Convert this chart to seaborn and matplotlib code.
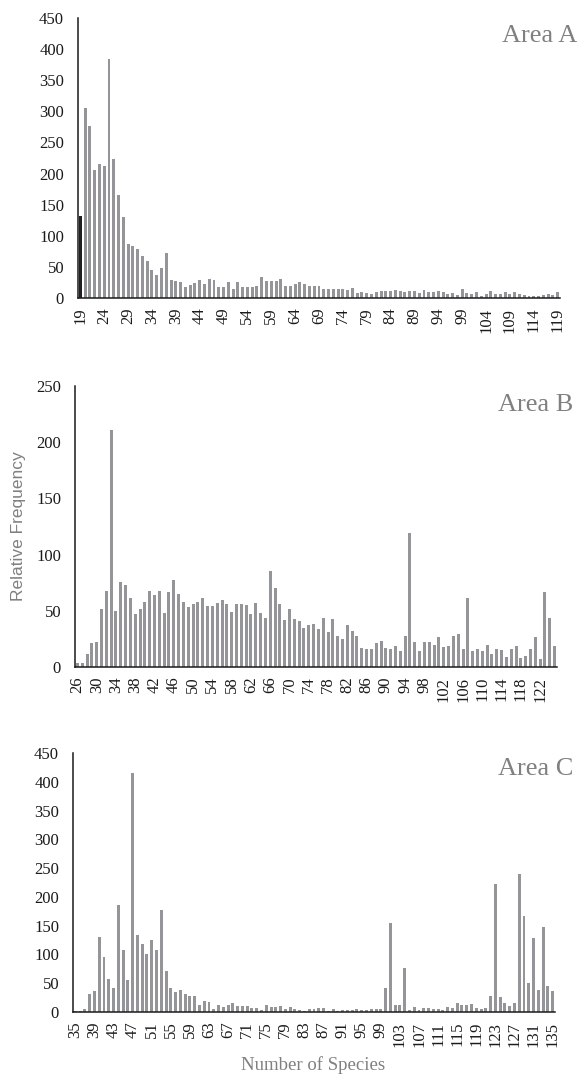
import numpy as np
import pandas as pd
import matplotlib
matplotlib.use("Agg")
import matplotlib.pyplot as plt
import seaborn as sns

# ---------------- data ----------------
species_a = list(range(19, 120))
freq_a = [131, 306, 277, 205, 216, 212, 384, 223, 165, 130,
          86, 84, 78, 67, 59, 45, 37, 48, 73, 29,
          27, 26, 18, 21, 24, 29, 22, 31, 29, 18,
          18, 26, 15, 26, 17, 18, 17, 20, 33, 28,
          28, 27, 30, 20, 19, 23, 25, 22, 20, 19,
          20, 15, 14, 14, 14, 14, 13, 16, 8, 10,
          8, 7, 10, 11, 11, 12, 13, 11, 10, 12,
          11, 8, 13, 10, 9, 12, 9, 7, 8, 5,
          14, 8, 7, 9, 3, 7, 11, 6, 6, 9,
          6, 9, 6, 5, 4, 3, 3, 5, 6, 5,
          9]

species_b = list(range(26, 126))
freq_b = [4, 4, 12, 21, 22, 52, 68, 211, 50, 76,
          73, 61, 47, 52, 58, 68, 64, 68, 48, 67,
          77, 65, 58, 53, 56, 58, 61, 54, 54, 57,
          60, 56, 49, 56, 56, 55, 47, 57, 48, 44,
          85, 70, 56, 42, 52, 43, 41, 35, 37, 38,
          34, 44, 31, 43, 28, 25, 37, 32, 28, 17,
          16, 16, 21, 23, 17, 16, 19, 14, 28, 119,
          22, 14, 22, 22, 20, 27, 18, 19, 28, 29,
          16, 61, 14, 16, 14, 20, 12, 16, 15, 9,
          16, 19, 8, 10, 16, 27, 7, 67, 44, 19]

species_c = list(range(35, 136))
freq_c = [1, 2, 6, 31, 36, 131, 95, 57, 42, 186,
          107, 55, 415, 134, 118, 100, 125, 107, 178, 71,
          42, 35, 39, 32, 28, 27, 12, 19, 17, 5,
          13, 9, 13, 15, 10, 10, 10, 7, 7, 3,
          13, 8, 8, 10, 5, 9, 6, 3, 2, 6,
          5, 7, 7, 2, 6, 2, 3, 3, 3, 5,
          4, 4, 5, 5, 6, 42, 154, 12, 12, 76,
          4, 9, 3, 7, 7, 6, 5, 4, 9, 7,
          15, 13, 12, 14, 7, 5, 7, 27, 222, 26,
          15, 10, 16, 240, 167, 51, 128, 39, 148, 45,
          36]

area_labels = ["Area A", "Area B", "Area C"]
y_max = [450, 250, 450]
tick_step = [5, 4, 4]
highlight_first = [True, False, False]

# ---------------- style ----------------
sns.set_theme(style="white")
plt.rcParams["font.family"] = ["Liberation Serif", "DejaVu Serif"]

BAR_GRAY = "#939598"
DARK = "#231f20"
TEXT_GRAY = "#808080"

W, H = 579, 1074
fig = plt.figure(figsize=(W / 100, H / 100), dpi=100)

# axes rectangles in pixels: left, right, top, bottom
rects_px = [(78, 560, 18, 298), (75, 557, 386, 667), (73, 555, 753, 1012)]
label_px = [(577, 42), (573, 411), (573, 775)]

datasets = [(species_a, freq_a), (species_b, freq_b), (species_c, freq_c)]

for i, ((xs, ys), (l, r, t, b)) in enumerate(zip(datasets, rects_px)):
    ax = fig.add_axes([l / W, 1 - b / H, (r - l) / W, (b - t) / H])
    df = pd.DataFrame({"species": xs, "freq": ys})
    df["grp"] = "rest"
    if highlight_first[i]:
        df.loc[0, "grp"] = "first"
    sns.barplot(data=df, x="species", y="freq", hue="grp",
                palette={"first": DARK, "rest": BAR_GRAY},
                native_scale=True, dodge=False, legend=False,
                width=0.62, linewidth=0, saturation=1, ax=ax)
    ax.set_xlim(xs[0] - 0.5, xs[-1] + 0.5)
    ax.set_ylim(0, y_max[i])
    ax.set_yticks(np.arange(0, y_max[i] + 1, 50))
    ax.set_xticks(xs[::tick_step[i]])
    ax.set_xticklabels([str(v) for v in xs[::tick_step[i]]], rotation=90)
    ax.tick_params(axis="both", length=0, labelsize=12, colors="#1a1a1a")
    ax.tick_params(axis="x", pad=7)
    ax.tick_params(axis="y", pad=10)
    ax.set_xlabel("")
    ax.set_ylabel("")
    for s in ["top", "right"]:
        ax.spines[s].set_visible(False)
    for s in ["left", "bottom"]:
        ax.spines[s].set_color("#1a1a1a")
        ax.spines[s].set_linewidth(1.1)
    lx, ly = label_px[i]
    fig.text(lx / W, 1 - ly / H, area_labels[i], ha="right", va="baseline",
             fontsize=19, color=TEXT_GRAY)

fig.text(18.5 / W, 1 - 526 / H, "Relative Frequency", rotation=90,
         ha="center", va="center", fontsize=12.5, color=TEXT_GRAY,
         family=["Liberation Sans", "DejaVu Sans"])
fig.text(313 / W, 1 - 1065 / H, "Number of Species", ha="center", va="center",
         fontsize=13.5, color=TEXT_GRAY)

fig.savefig("out.png", dpi=100)
